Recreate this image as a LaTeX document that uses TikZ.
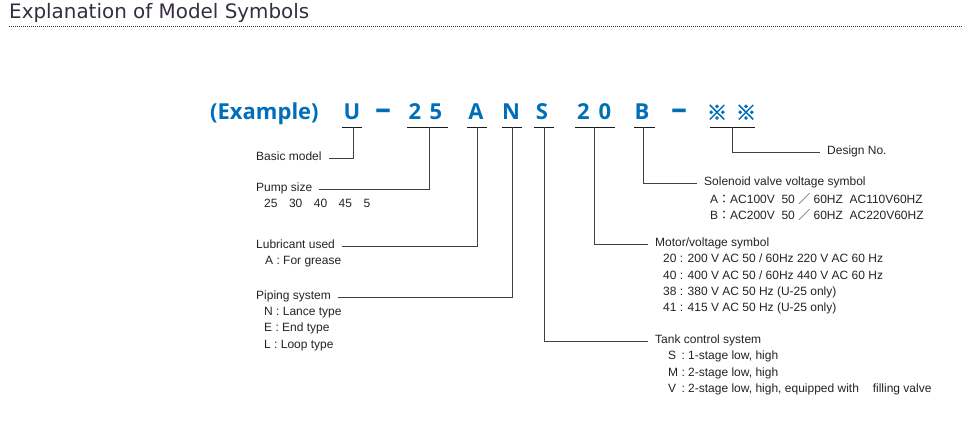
\documentclass[tikz,border=0pt]{standalone}
\usepackage{fontspec}
\setmainfont{Liberation Sans}
\newfontfamily\exfont{Open Sans}
\newfontfamily\headfont{DejaVu Sans}
\newfontfamily\cjk{Noto Sans CJK JP}
\newfontfamily\cjkstar[FakeBold=2.5]{Noto Sans CJK JP}
\usepackage{tikz}
\usetikzlibrary{positioning}
\definecolor{exblue}{RGB}{0,110,185}
\definecolor{headtxt}{RGB}{55,45,65}
\definecolor{txt}{RGB}{35,35,35}

\begin{document}
\begin{tikzpicture}[
  x=1pt,y=-1pt,
  head/.style={font=\headfont\fontsize{19.9}{22}\selectfont,text=headtxt,inner sep=0pt},
  sym/.style={font=\exfont\bfseries\fontsize{22}{22}\selectfont,text=exblue,anchor=base,inner sep=0pt},
  dashsym/.style={sym,font=\exfont\bfseries\fontsize{32}{32}\selectfont},
  starsym/.style={sym,font=\cjkstar\fontsize{20.5}{20.5}\selectfont},
  lbl/.style={font=\fontsize{12}{14}\selectfont,text=txt,anchor=west,inner xsep=7pt,inner ysep=0pt,
    text height=9pt,text depth=4.5pt},
  items/.style={font=\fontsize{12}{16.3}\selectfont,text=txt,align=left,inner sep=0pt},
  uline/.style={draw=black!90,line width=0.9pt},
  conn/.style={draw=black!75,line width=1pt},
]
  \useasboundingbox (0,0) rectangle (962,423);
  % heading and dotted rule
  \node[head,anchor=base west] (title) at (9,18.3) {Explanation of Model Symbols};
  \draw[black!80,line width=0.8pt,dash pattern=on 1pt off 1pt] ([yshift=-8.4pt]title.base west) -- ++(953,0);

  % the model code
  \node[sym,anchor=base west] (ex) at (210,119.5) {(Example)};
  \node[sym] (sU) at (352,119.5) {U};
  \node[dashsym] (d1) at (383,119.5) {–};
  \node[sym] (s2) at (415,119.5) {2};
  \node[sym] (s5) at (436,119.5) {5};
  \node[sym] (sA) at (476,119.5) {A};
  \node[sym] (sN) at (511,119.5) {N};
  \node[sym] (sS) at (542,119.5) {S};
  \node[sym] (s2b) at (583.5,119.5) {2};
  \node[sym] (s0) at (605,119.5) {0};
  \node[sym] (sB) at (642,119.5) {B};
  \node[dashsym] (d2) at (679,119.5) {–};
  \node[starsym] (x1) at (717,120) {※};
  \node[starsym] (x2) at (746,120) {※};

  % underlines
  \coordinate (uU) at (353,127.3);
  \coordinate (u25) at (429,127.3);
  \coordinate (uA) at (477,127.3);
  \coordinate (uN) at (512,127.3);
  \coordinate (uS) at (544,127.3);
  \coordinate (u20) at (594,127.3);
  \coordinate (uB) at (643,127.3);
  \coordinate (uX) at (732,127.3);
  \draw[uline] ([xshift=-11pt]uU) -- ([xshift=9pt]uU);
  \draw[uline] ([xshift=-22pt]u25) -- ([xshift=19pt]u25);
  \draw[uline] ([xshift=-10pt]uA) -- ([xshift=10pt]uA);
  \draw[uline] ([xshift=-10pt]uN) -- ([xshift=10pt]uN);
  \draw[uline] ([xshift=-10pt]uS) -- ([xshift=10pt]uS);
  \draw[uline] ([xshift=-19pt]u20) -- ([xshift=21pt]u20);
  \draw[uline] ([xshift=-9pt]uB) -- ([xshift=12pt]uB);
  \draw[uline] ([xshift=-22pt]uX) -- ([xshift=23pt]uX);

  % left-hand descriptions
  \node[lbl] (basic) at (249,158) {Basic model};
  \node[lbl] (pump) at (249,189) {Pump size};
  \node[items,below=3pt of pump.south west,anchor=north west,xshift=15pt] (pumpvals)
    {25\hspace{11.5pt}30\hspace{11.5pt}40\hspace{11.5pt}45\hspace{11.5pt}5};
  \node[lbl] (lube) at (249,246) {Lubricant used};
  \node[items,below=3pt of lube.south west,anchor=north west,xshift=16pt] (lubevals)
    {A : For grease};
  \node[lbl] (piping) at (249,297) {Piping system};
  \node[items,below=3pt of piping.south west,anchor=north west,xshift=15pt] (pipevals)
    {N : Lance type\\E : End type\\L : Loop type};

  % right-hand descriptions
  \node[lbl] (design) at (820,152) {Design No.};
  \node[lbl] (sol) at (697,183) {Solenoid valve voltage symbol};
  \node[items,below=3pt of sol.south west,anchor=north west,xshift=13pt] (solvals)
    {A{\cjk ：}AC100V\ \ 50 {\cjk ／} 60HZ\ \ AC110V60HZ\\
     B{\cjk ：}AC200V\ \ 50 {\cjk ／} 60HZ\ \ AC220V60HZ};
  \node[lbl] (motor) at (648,244) {Motor/voltage symbol};
  \node[items,below=3pt of motor.south west,anchor=north west,xshift=15pt] (motorvals)
    {20 : 200 V AC 50 / 60Hz 220 V AC 60 Hz\\40 : 400 V AC 50 / 60Hz 440 V AC 60 Hz\\
     38 : 380 V AC 50 Hz (U-25 only)\\41 : 415 V AC 50 Hz (U-25 only)};
  \node[lbl] (tank) at (648,341) {Tank control system};
  \node[items,below=3pt of tank.south west,anchor=north west,xshift=20pt] (tankvals)
    {S\hspace{2pt} : 1-stage low, high\\M : 2-stage low, high\\
     V\hspace{2pt} : 2-stage low, high, equipped with\hspace{10.5pt} filling valve};

  % leader lines
  \draw[conn] (uU) |- (basic.east);
  \draw[conn] (u25) |- (pump.east);
  \draw[conn] (uA) |- (lube.east);
  \draw[conn] (uN) |- (piping.east);
  \draw[conn] (uS) |- (tank.west);
  \draw[conn] (u20) |- (motor.west);
  \draw[conn] (uB) |- (sol.west);
  \draw[conn] (uX) |- (design.west);
\end{tikzpicture}
\end{document}
